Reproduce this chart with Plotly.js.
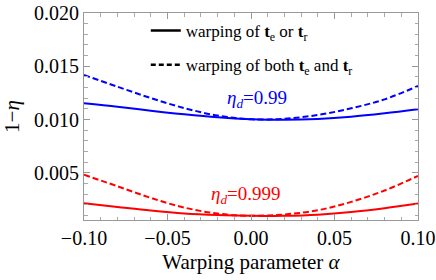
<!DOCTYPE html>
<html>
<head>
<meta charset="utf-8">
<script src="https://cdn.plot.ly/plotly-3.0.1.min.js"></script>
<style>html,body{margin:0;padding:0;background:#fff;}#chart{width:436px;height:280px;}</style>
</head>
<body>
<div id="chart"></div>
<script>
const alpha = [-0.10,-0.08,-0.06,-0.04,-0.02,0.00,0.02,0.04,0.06,0.08,0.10];
const blueSolid  = [0.01153,0.01121,0.01084,0.01050,0.01022,0.01004,0.00998,0.01006,0.01027,0.01059,0.01097];
const blueDashed = [0.01418,0.01309,0.01202,0.01108,0.01038,0.01003,0.01008,0.01043,0.01106,0.01190,0.01315];
const redSolid   = [0.00215,0.00180,0.00146,0.00119,0.00104,0.00097,0.00098,0.00108,0.00132,0.00168,0.00212];
const redDashed  = [0.00482,0.00375,0.00265,0.00175,0.00118,0.00098,0.00110,0.00150,0.00228,0.00335,0.00471];
const legendNames = ["warping of <b>t</b><sub>e</sub> or <b>t</b><sub>r</sub>",
                     "warping of both <b>t</b><sub>e</sub> and <b>t</b><sub>r</sub>"];
const labelText = ["<i>η</i><sub><i>d</i></sub>=0.99", "<i>η</i><sub><i>d</i></sub>=0.999"];
const labelPos = [[0.0036, 0.01193], [-0.003, 0.00293]];

const serif = "Liberation Serif";
const dashPat = "6px,3px";

const traces = [
  {x: alpha, y: blueSolid, mode: "lines", line: {color: "#0000ff", width: 2, shape: "spline"}, showlegend: false},
  {x: alpha, y: blueDashed, mode: "lines", line: {color: "#0000ff", width: 2, dash: dashPat, shape: "spline"}, showlegend: false},
  {x: alpha, y: redSolid, mode: "lines", line: {color: "#ff0000", width: 2, shape: "spline"}, showlegend: false},
  {x: alpha, y: redDashed, mode: "lines", line: {color: "#ff0000", width: 2, dash: dashPat, shape: "spline"}, showlegend: false},
  {x: [null], y: [null], mode: "lines", name: legendNames[0], line: {color: "#000", width: 2.5}, legendgroup: "a"},
  {x: [null], y: [null], mode: "lines", name: legendNames[1], line: {color: "#000", width: 2.5, dash: "5px,3px"}, legendgroup: "b"}
];

const axisCommon = {
  showgrid: false, zeroline: false, showline: true, linecolor: "#999", linewidth: 1,
  mirror: "ticks", ticks: "inside", ticklen: 6, tickwidth: 1, tickcolor: "#999",
  tickfont: {family: serif, size: 20, color: "#000"},
  minor: {ticks: "inside", ticklen: 3.5, tickwidth: 1, tickcolor: "#aaa", showgrid: false}
};

const layout = {
  width: 436, height: 280,
  margin: {l: 84, r: 18, t: 13, b: 60},
  paper_bgcolor: "#fff", plot_bgcolor: "#fff",
  font: {family: serif},
  xaxis: Object.assign({}, axisCommon, {
    range: [-0.1, 0.1], tickvals: [-0.1,-0.05,0,0.05,0.1], ticktext: ["−0.10","−0.05","0.00","0.05","0.10"],
    minor: Object.assign({}, axisCommon.minor, {dtick: 0.01, tick0: 0}),
    title: {text: "Warping parameter <i>α</i>", font: {family: serif, size: 21, color: "#000"}, standoff: 6}
  }),
  yaxis: Object.assign({}, axisCommon, {
    range: [0.00058, 0.020], tickvals: [0.005,0.010,0.015,0.020], ticktext: ["0.005","0.010","0.015","0.020"],
    minor: Object.assign({}, axisCommon.minor, {dtick: 0.001, tick0: 0}),
    title: {text: "1−<i>η</i>", font: {family: serif, size: 21, color: "#000"}, standoff: 8}
  }),
  legend: {x: 0.185, xanchor: "left", y: 1.0, yanchor: "top", bgcolor: "rgba(0,0,0,0)",
           font: {family: serif, size: 17, color: "#000"}, tracegroupgap: 9, traceorder: "grouped"},
  annotations: [
    {x: labelPos[0][0], y: labelPos[0][1], xref: "x", yref: "y", text: labelText[0], showarrow: false,
     font: {family: serif, size: 19, color: "#0000ff"}},
    {x: labelPos[1][0], y: labelPos[1][1], xref: "x", yref: "y", text: labelText[1], showarrow: false,
     font: {family: serif, size: 19, color: "#ff0000"}}
  ]
};

Plotly.newPlot("chart", traces, layout, {displayModeBar: false, staticPlot: true});
</script>
</body>
</html>
